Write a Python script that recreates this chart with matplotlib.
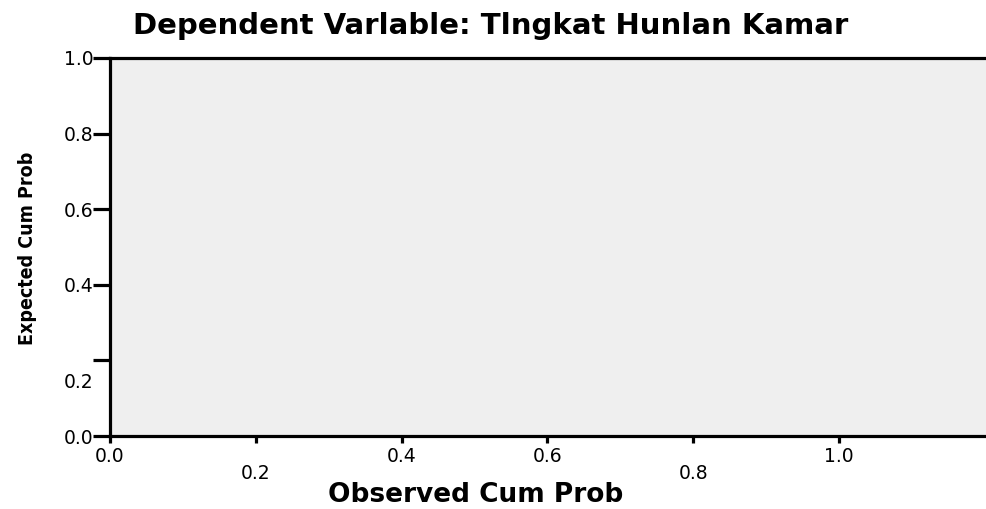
import numpy as np
import matplotlib.pyplot as plt
import matplotlib.transforms as mtransforms

# ================================
# Data (empty P-P plot frame)
# ================================

x_ticks = [0.0, 0.2, 0.4, 0.6, 0.8, 1.0]
x_tick_labels = ["0.0", "0.2", "0.4", "0.6", "0.8", "1.0"]
x_label_low = [False, True, False, False, True, False]   # staggered labels

y_ticks = [0.0, 0.2, 0.4, 0.6, 0.8, 1.0]
y_tick_labels = ["0.0", "0.2", "0.4", "0.6", "0.8", "1.0"]
y_label_shift = [0, -20, 0, 0, 0, 0]   # pixels, 0.2 label sits below its tick

title = "Dependent Varlable: Tlngkat Hunlan Kamar"
x_title = "Observed Cum Prob"
y_title = "Expected Cum Prob"

# ================================
# Plot
# ================================

fig = plt.figure(figsize=(9.87, 5.09), dpi=100)
ax = fig.add_axes([110 / 987, 73 / 509, 877 / 987, 378 / 509])
ax.set_facecolor("#efefef")
ax.set_xlim(0, 877 / 729)
ax.set_ylim(0, 1)

for side in ["left", "top", "bottom"]:
    ax.spines[side].set_linewidth(2.3)
    ax.spines[side].set_color("black")
ax.spines["right"].set_visible(False)

ax.set_xticks(x_ticks)
ax.set_xticklabels(x_tick_labels, fontsize=13.5, family="DejaVu Sans")
ax.set_yticks(y_ticks)
ax.set_yticklabels(y_tick_labels, fontsize=13.5, family="DejaVu Sans")
ax.tick_params(axis="x", direction="out", length=5, width=2.3, pad=3)
ax.tick_params(axis="y", direction="out", length=12, width=2.3, pad=0)

for tick, low in zip(ax.xaxis.get_major_ticks(), x_label_low):
    if low:
        tick.set_pad(15)

for lab, dy in zip(ax.get_yticklabels(), y_label_shift):
    if dy:
        off = mtransforms.ScaledTranslation(0, dy / 100, fig.dpi_scale_trans)
        lab.set_transform(lab.get_transform() + off)

fig.text(0.497, 1 - 26 / 509, title, ha="center", va="center",
         fontsize=21, fontweight="bold", family="DejaVu Sans")
fig.text(476 / 987, 1 - 495 / 509, x_title, ha="center", va="center",
         fontsize=19, fontweight="bold", family="DejaVu Sans")
fig.text(28 / 987, 1 - 248 / 509, y_title, ha="center", va="center",
         rotation=90, fontsize=14, fontweight="bold",
         family="DejaVu Sans", fontstretch="condensed")

plt.savefig("out.png", dpi=100)
